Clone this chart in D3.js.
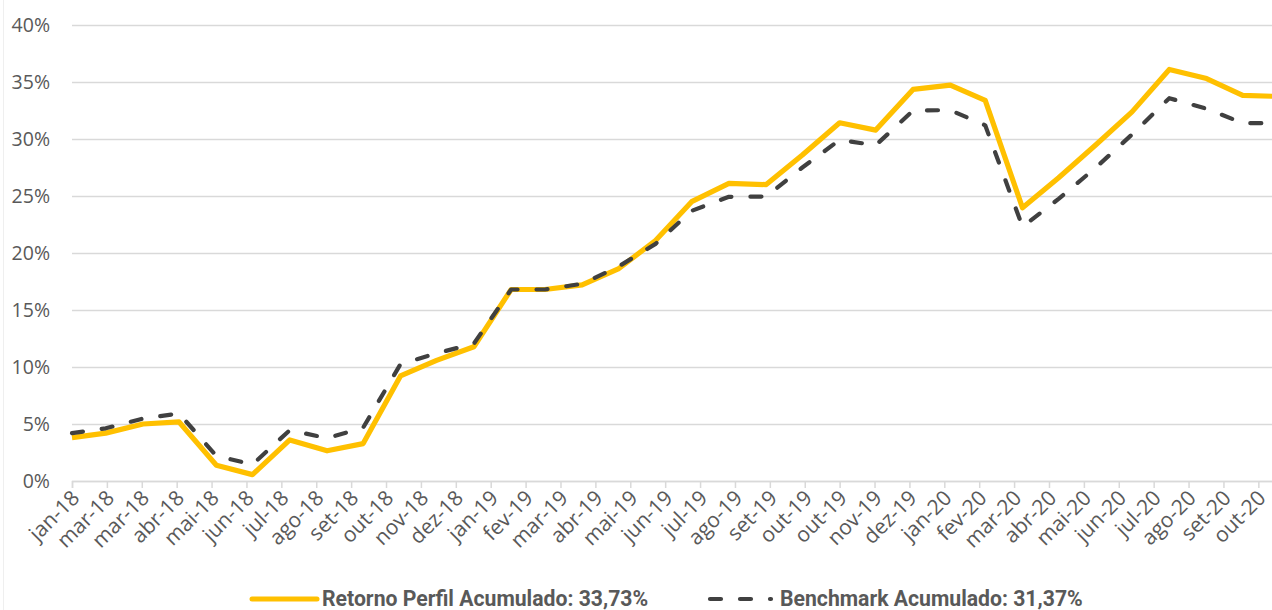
<!DOCTYPE html>
<html>
<head>
<meta charset="utf-8">
<script src="https://cdn.jsdelivr.net/npm/d3@7"></script>
<style>
  html, body { margin: 0; padding: 0; background: #fff; }
  svg { display: block; }
  .tick text { font-family: "Open Sans", sans-serif; fill: #595959; }
  .legend text { font-family: "Liberation Sans Narrow", "Roboto", sans-serif; font-weight: bold; fill: #595959; }
</style>
</head>
<body>
<div id="chart"></div>
<script>
// month-end dates of each observation
const monthEnds = [
  '2018-01-31', '2018-02-28', '2018-03-31', '2018-04-30', '2018-05-31', '2018-06-30',
  '2018-07-31', '2018-08-31', '2018-09-30', '2018-10-31', '2018-11-30', '2018-12-31',
  '2019-01-31', '2019-02-28', '2019-03-31', '2019-04-30', '2019-05-31', '2019-06-30',
  '2019-07-31', '2019-08-31', '2019-09-30', '2019-10-31', '2019-11-30', '2019-12-31',
  '2020-01-31', '2020-02-29', '2020-03-31', '2020-04-30', '2020-05-31', '2020-06-30',
  '2020-07-31', '2020-08-31', '2020-09-30', '2020-10-31'
];

// cumulative returns, %
const retorno = [
  3.8, 4.2, 5.0, 5.18, 1.38, 0.56, 3.6, 2.65, 3.28, 9.22, 10.58, 11.78,
  16.8, 16.8, 17.2, 18.6, 21.1, 24.5, 26.1, 26.0, 28.6, 31.42, 30.78, 34.35,
  34.72, 33.38, 23.96, 26.6, 29.5, 32.38, 36.1, 35.3, 33.82, 33.73
];
const benchmark = [
  4.2, 4.62, 5.48, 5.92, 2.2, 1.45, 4.46, 3.76, 4.68, 10.25, 11.2, 12.05,
  16.8, 16.8, 17.3, 18.8, 20.8, 23.7, 24.93, 24.95, 27.5, 29.92, 29.45, 32.5,
  32.53, 31.2, 22.3, 24.75, 27.5, 30.4, 33.58, 32.65, 31.4, 31.37
];

// date axis: a label every 29 days starting at the first month end
const tickLabels = [
  'jan-18', 'mar-18', 'mar-18', 'abr-18', 'mai-18', 'jun-18', 'jul-18', 'ago-18', 'set-18',
  'out-18', 'nov-18', 'dez-18', 'jan-19', 'fev-19', 'mar-19', 'abr-19', 'mai-19', 'jun-19',
  'jul-19', 'ago-19', 'set-19', 'out-19', 'out-19', 'nov-19', 'dez-19', 'jan-20', 'fev-20',
  'mar-20', 'abr-20', 'mai-20', 'jun-20', 'jul-20', 'ago-20', 'set-20', 'out-20'
];
const tickStepDays = 29;
const yTicks = [0, 5, 10, 15, 20, 25, 30, 35, 40];

const legendItems = [
  { key: 'retorno', label: 'Retorno Perfil Acumulado: 33,73%' },
  { key: 'benchmark', label: 'Benchmark Acumulado: 31,37%' }
];

const width = 1272;
const height = 610;
const margin = { top: 25, right: -8, bottom: 129, left: 72 };

const parse = d3.timeParse('%Y-%m-%d');
const dates = monthEnds.map(parse);
const tickDates = tickLabels.map((_, i) => d3.timeDay.offset(dates[0], i * tickStepDays));

const svg = d3
  .select('#chart')
  .append('svg')
  .attr('width', width)
  .attr('height', height);

svg.append('rect').attr('width', width).attr('height', height).attr('fill', '#fff');
// faint chart-area border on the left
svg.append('line')
  .attr('x1', 3.5).attr('x2', 3.5).attr('y1', 0).attr('y2', height)
  .attr('stroke', '#efefef');

const x = d3
  .scaleTime()
  .domain(d3.extent(dates))
  .range([margin.left, width - margin.right]);

const y = d3
  .scaleLinear()
  .domain([0, 40])
  .range([height - margin.bottom, margin.top]);

// gridlines + y labels
const yAxis = svg
  .append('g')
  .attr('transform', `translate(${margin.left},0)`)
  .call(
    d3.axisLeft(y)
      .tickValues(yTicks)
      .tickFormat(d => d + '%')
      .tickSize(-(width - margin.left - margin.right))
      .tickPadding(22)
  );
yAxis.select('.domain').remove();
yAxis.selectAll('.tick line').attr('stroke', '#d9d9d9').attr('stroke-width', 1.5);
yAxis.selectAll('.tick text').attr('font-size', 19.5);

// date axis
const xAxis = svg
  .append('g')
  .attr('transform', `translate(0,${y(0)})`)
  .call(
    d3.axisBottom(x)
      .tickValues(tickDates)
      .tickFormat((d, i) => tickLabels[i])
      .tickSizeOuter(0)
      .tickSize(7)
  );
xAxis.select('.domain').attr('stroke', '#d9d9d9').attr('stroke-width', 1.5);
xAxis.selectAll('.tick line').attr('stroke', '#d9d9d9').attr('stroke-width', 1.5);
xAxis.selectAll('.tick text')
  .attr('font-size', 21)
  .attr('fill', '#606060')
  .attr('text-anchor', 'end')
  .attr('transform', 'translate(3,13) rotate(-45)')
  .attr('dy', '0.35em')
  .attr('y', 0)
  .attr('x', 0);

const line = d3.line()
  .x((d, i) => x(dates[i]))
  .y(d => y(d));

svg.append('path')
  .datum(retorno)
  .attr('d', line)
  .attr('fill', 'none')
  .attr('stroke', '#ffc000')
  .attr('stroke-width', 5.2)
  .attr('stroke-linejoin', 'round');

svg.append('path')
  .datum(benchmark)
  .attr('d', line)
  .attr('fill', 'none')
  .attr('stroke', '#404040')
  .attr('stroke-width', 4.2)
  .attr('stroke-linecap', 'round')
  .attr('stroke-linejoin', 'round')
  .attr('stroke-dasharray', '11,19');

// legend
const legend = svg.append('g').attr('class', 'legend');
const legendY = 599;

legend.append('line')
  .attr('x1', 252).attr('x2', 317).attr('y1', legendY).attr('y2', legendY)
  .attr('stroke', '#ffc000').attr('stroke-width', 5).attr('stroke-linecap', 'round');
legend.append('text')
  .attr('x', 322).attr('y', legendY).attr('dy', '0.32em')
  .attr('font-size', 21.2)
  .text(legendItems[0].label);

legend.append('line')
  .attr('x1', 710).attr('x2', 771).attr('y1', legendY).attr('y2', legendY)
  .attr('stroke', '#404040').attr('stroke-width', 4.2)
  .attr('stroke-linecap', 'round').attr('stroke-dasharray', '11,19');
legend.append('text')
  .attr('x', 780).attr('y', legendY).attr('dy', '0.32em')
  .attr('font-size', 21.2)
  .text(legendItems[1].label);
</script>
</body>
</html>
